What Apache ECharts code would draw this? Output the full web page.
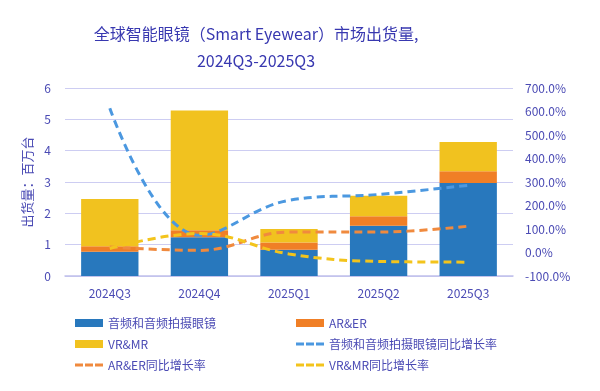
<!DOCTYPE html>
<html><head><meta charset="utf-8">
<script src="https://cdn.jsdelivr.net/npm/echarts@6/dist/echarts.min.js"></script>
<style>html,body{margin:0;padding:0;background:#fff}#c{width:600px;height:391px}</style>
</head><body><div id="c"></div>
<script>
const categories = ['2024Q3','2024Q4','2025Q1','2025Q2','2025Q3'];
const audioGlasses = [0.77, 1.24, 0.84, 1.60, 2.97];
const arEr = [0.18, 0.22, 0.23, 0.31, 0.37];
const vrMr = [1.51, 3.82, 0.43, 0.65, 0.94];
const audioYoY = [614, 73, 222, 247, 286];
const arErYoY = [23, 9, 87, 87, 112];
const vrMrYoY = [17, 81, -6, -38, -41];
const leftTicks = [0, 6, 1];
const rightTicks = [-100, 700, 100];

const txt = '#4a4ab4';
const font = '"Noto Sans CJK SC", "Noto Sans", sans-serif';
const dashIcon = 'path://M0,2.5H8V5.5H0Z M10,2.5H18V5.5H10Z M20,2.5H28V5.5H20Z M0,0L0.01,0L0,0Z M0,8L0.01,8L0,8Z';
const chart = echarts.init(document.getElementById('c'));
const dashed = (name, data, color) => ({
  name, type: 'line', yAxisIndex: 1, data, smooth: 0.4, symbol: 'none',
  lineStyle: { color, width: 3, type: [8, 5] }, itemStyle: { color }, z: 5
});
const legendCommon = { orient: 'vertical', top: 312, itemGap: 9, itemWidth: 28, itemHeight: 8,
  textStyle: { color: txt, fontSize: 12, fontFamily: font } };
chart.setOption({
  animation: false,
  textStyle: { fontFamily: font },
  title: {
    text: '全球智能眼镜（Smart Eyewear）市场出货量,\n2024Q3-2025Q3',
    left: 251, textAlign: 'center', top: 15,
    textStyle: { color: '#3838b0', fontSize: 16, fontWeight: 'normal', lineHeight: 27, fontFamily: font }
  },
  grid: { left: 65, right: 87, top: 88, bottom: 115 },
  legend: [
    Object.assign({ left: 70, data: [
      { name: '音频和音频拍摄眼镜', icon: 'rect' }, { name: 'VR&MR', icon: 'rect' },
      { name: 'AR&ER同比增长率', icon: dashIcon }] }, legendCommon),
    Object.assign({ left: 291, data: [
      { name: 'AR&ER', icon: 'rect' }, { name: '音频和音频拍摄眼镜同比增长率', icon: dashIcon },
      { name: 'VR&MR同比增长率', icon: dashIcon }] }, legendCommon)
  ],
  xAxis: {
    type: 'category', data: categories,
    axisLine: { lineStyle: { color: '#c0c0ec', width: 1.5 } }, axisTick: { show: false },
    axisLabel: { color: txt, fontSize: 12, margin: 11 }
  },
  yAxis: [
    { type: 'value', min: leftTicks[0], max: leftTicks[1], interval: leftTicks[2],
      name: '出货量：百万台', nameLocation: 'middle', nameGap: 26, nameRotate: 90,
      nameTextStyle: { color: txt, fontSize: 13 },
      axisLabel: { color: txt, fontSize: 12, margin: 14 },
      splitLine: { lineStyle: { color: '#cdcdf2', width: 1.2 } } },
    { type: 'value', min: rightTicks[0], max: rightTicks[1], interval: rightTicks[2],
      axisLabel: { color: txt, fontSize: 12, margin: 12, formatter: v => v.toFixed(1) + '%' },
      splitLine: { show: false } }
  ],
  series: [
    { name: '音频和音频拍摄眼镜', type: 'bar', stack: 's', data: audioGlasses, barWidth: '64%', itemStyle: { color: '#2878bd' } },
    { name: 'AR&ER', type: 'bar', stack: 's', data: arEr, itemStyle: { color: '#f07f26' } },
    { name: 'VR&MR', type: 'bar', stack: 's', data: vrMr, itemStyle: { color: '#f1c21f' } },
    dashed('音频和音频拍摄眼镜同比增长率', audioYoY, '#4b98e0'),
    dashed('AR&ER同比增长率', arErYoY, '#f08a3e'),
    dashed('VR&MR同比增长率', vrMrYoY, '#f3c41c')
  ]
});
</script></body></html>
